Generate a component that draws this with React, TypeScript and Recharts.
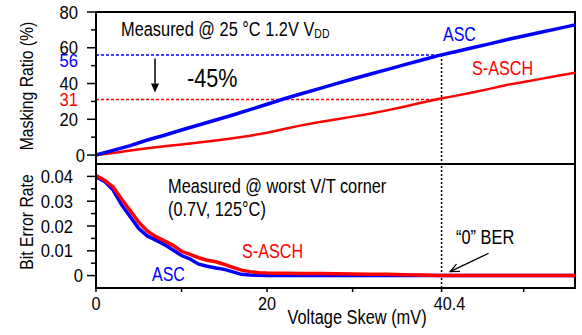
import React from "react";
import {
  LineChart,
  Line,
  XAxis,
  YAxis,
  ReferenceLine,
  ReferenceArea,
} from "recharts";

// masking ratio (%) vs voltage skew (mV), measured @ 25 °C, 1.2 V
const skewMask = [0, 2, 4, 6, 8, 10, 12, 14, 16, 18, 20, 22, 24, 26, 28, 30, 32, 34, 36, 38, 40, 42, 44, 46, 48, 50, 52, 54, 56];
const ascMask = [0, 2.6, 5.3, 8.4, 11.1, 14.0, 16.8, 19.6, 22.4, 25.4, 28.4, 31.5, 34.3, 37.0, 39.8, 42.5, 45.2, 47.8, 50.4, 53.0, 55.6, 57.8, 60.0, 62.2, 64.5, 66.6, 68.7, 70.7, 72.8];
const saschMask = [0, 1.2, 2.6, 3.8, 4.9, 5.9, 7.0, 8.2, 9.4, 10.8, 12.5, 14.6, 16.6, 18.3, 19.9, 21.5, 23.1, 25.0, 27.0, 29.2, 31.3, 33.1, 35.0, 37.0, 39.2, 40.9, 42.6, 44.3, 46.0];

// bit error rate vs voltage skew (mV), worst V/T corner (0.7 V, 125 °C)
const skewBer = [0, 1, 2, 3, 4, 5, 6, 7, 8, 9, 10, 11, 12, 13, 14, 15, 16, 17, 18, 19, 20, 22, 24, 26, 28, 30, 32, 34, 36, 38, 40, 42, 44, 46, 48, 50, 52, 54, 56];
const ascBer = [0.0398, 0.038, 0.0345, 0.0285, 0.0237, 0.019, 0.016, 0.0143, 0.0125, 0.0103, 0.0081, 0.0067, 0.0046, 0.0038, 0.0031, 0.0025, 0.0015, 0.0005, 0.0002, 0.0001, 0, 0, 0, 0, 0, 0, 0, 0, 0, 0, 0, 0, 0, 0, 0, 0, 0, 0, 0];
const saschBer = [0.0404, 0.0385, 0.0357, 0.0308, 0.0262, 0.0215, 0.018, 0.0157, 0.014, 0.0122, 0.0098, 0.0086, 0.0072, 0.0062, 0.0056, 0.0045, 0.0033, 0.0022, 0.0016, 0.0012, 0.001, 0.0009, 0.0008, 0.0008, 0.0007, 0.0006, 0.0005, 0.0005, 0.0003, 0.0002, 0, 0, 0, 0, 0, 0, 0, 0, 0];

const maskTicks = [0, 10, 20, 30, 40, 50, 60, 70, 80];
const berTicks = [0, 0.005, 0.01, 0.015, 0.02, 0.025, 0.03, 0.035, 0.04];
const berMajor = [0, 0.01, 0.02, 0.03, 0.04];
const skewTicks = [0, 10, 20, 30, 40.4, 50];
const skewLabeled = [0, 20, 40.4];

// skew where the two masking ratios are compared
const markSkew = 40.4;
const ascAtMark = 56;
const saschAtMark = 31;

const maskRows = skewMask.map((s, i) => ({ skew: s, asc: ascMask[i], sasch: saschMask[i] }));
const berRows = skewBer.map((s, i) => ({ skew: s, asc: ascBer[i], sasch: saschBer[i] }));

const FONT = "'Liberation Sans', Arial, sans-serif";
const BLUE = "#0000ff";
const RED = "#ff0000";

// condensed sans text (horizontal squeeze around its anchor point)
const Label = ({ x, y, size, color = "#000", anchor = "start", rotate = 0, sx = 0.83, dy, children }: any) => (
  <text
    transform={`translate(${x},${y})${rotate ? ` rotate(${rotate})` : ""} scale(${sx},1)`}
    fontSize={size}
    fontFamily={FONT}
    fill={color}
    textAnchor={anchor}
    dy={dy}
  >
    {children}
  </text>
);

const MaskTick = (props: any) => {
  const { x, y, payload } = props;
  const v = payload.value;
  const major = v % 20 === 0;
  return (
    <g>
      <line x1={x - (major ? 9 : 5)} x2={x} y1={y} y2={y} stroke="#000" strokeWidth={1.5} />
      {major && (
        <Label x={v === 0 ? x - 11 : x - 18} y={y} dy="0.36em" anchor="end" size={18.5} sx={0.9}>
          {v}
        </Label>
      )}
    </g>
  );
};

const BerTick = (props: any) => {
  const { x, y, payload } = props;
  const v = payload.value;
  const major = berMajor.includes(v);
  return (
    <g>
      <line x1={x - (major ? 9 : 5)} x2={x} y1={y} y2={y} stroke="#000" strokeWidth={1.5} />
      {major && (
        <Label x={v === 0 ? x - 13 : x - 23} y={y} dy="0.36em" anchor="end" size={18.5} sx={0.9}>
          {v === 0 ? "0" : v.toFixed(2)}
        </Label>
      )}
    </g>
  );
};

const SkewTick = (props: any) => {
  const { x, y, payload } = props;
  const v = payload.value;
  return (
    <g>
      <line x1={x} x2={x} y1={y} y2={y + 4} stroke="#000" strokeWidth={1.5} />
      {skewLabeled.includes(v) && (
        <Label x={v === markSkew ? x + 8 : x} y={y + 22} anchor="middle" size={18.5} sx={0.88}>
          {v}
        </Label>
      )}
    </g>
  );
};

// arrow drawn along a reference segment, head at the second point
const Arrow = (props: any) => {
  const { x1, y1, x2, y2, open } = props;
  const a = Math.atan2(y2 - y1, x2 - x1);
  const len = 9;
  const half = 4;
  const bx = x2 - len * Math.cos(a);
  const by = y2 - len * Math.sin(a);
  const px = -Math.sin(a) * half;
  const py = Math.cos(a) * half;
  if (open) {
    return (
      <g>
        <line x1={x1} y1={y1} x2={x2} y2={y2} stroke="#000" strokeWidth={1.3} />
        <polyline points={`${bx + px},${by + py} ${x2},${y2} ${bx - px},${by - py}`} fill="none" stroke="#000" strokeWidth={1.3} />
      </g>
    );
  }
  return (
    <g>
      <line x1={x1} y1={y1} x2={bx} y2={by} stroke="#000" strokeWidth={1.5} />
      <polygon points={`${x2},${y2} ${bx + px},${by + py} ${bx - px},${by - py}`} fill="#000" />
    </g>
  );
};

export default function App() {
  return (
    <div style={{ position: "absolute", left: 0, top: 0, width: 582, height: 335, background: "#fff" }}>
      <div style={{ position: "absolute", left: 0, top: 0 }}>
        <LineChart width={582} height={166} data={maskRows} margin={{ top: 12, right: 7, bottom: 2, left: 0 }}>
          <XAxis dataKey="skew" type="number" domain={[0, 56]} hide />
          <YAxis
            type="number"
            domain={[-5, 80]}
            ticks={maskTicks}
            interval={0}
            width={96}
            tickSize={0}
            tickMargin={0}
            tickLine={false}
            axisLine={{ stroke: "#000", strokeWidth: 2 }}
            tick={<MaskTick />}
          />
          <ReferenceArea x1={0} x2={56} y1={-5} y2={80} fill="none" stroke="#000" strokeWidth={2} ifOverflow="visible" />
          <ReferenceLine segment={[{ x: 0, y: ascAtMark }, { x: markSkew, y: ascAtMark }]} stroke={BLUE} strokeWidth={1.5} strokeDasharray="3 2" />
          <ReferenceLine segment={[{ x: 0, y: saschAtMark }, { x: markSkew, y: saschAtMark }]} stroke={RED} strokeWidth={1.5} strokeDasharray="3 2" />
          <ReferenceLine segment={[{ x: markSkew, y: ascAtMark }, { x: markSkew, y: -5 }]} stroke="#000" strokeWidth={1.5} strokeDasharray="2 2" />
          <ReferenceLine segment={[{ x: 6.9, y: 54 }, { x: 6.9, y: 35 }]} shape={(p: any) => <Arrow {...p} />} />
          <Line dataKey="sasch" type="linear" stroke={RED} strokeWidth={2.5} dot={false} isAnimationActive={false} />
          <Line dataKey="asc" type="linear" stroke={BLUE} strokeWidth={3.5} dot={false} isAnimationActive={false} />
        </LineChart>
      </div>
      <div style={{ position: "absolute", left: 0, top: 164 }}>
        <LineChart width={582} height={171} data={berRows} margin={{ top: 0, right: 7, bottom: 0, left: 0 }}>
          <XAxis
            dataKey="skew"
            type="number"
            domain={[0, 56]}
            ticks={skewTicks}
            interval={0}
            height={47}
            tickSize={0}
            tickMargin={0}
            tickLine={false}
            axisLine={{ stroke: "#000", strokeWidth: 2 }}
            tick={<SkewTick />}
          />
          <YAxis
            type="number"
            domain={[-0.005, 0.045]}
            ticks={berTicks}
            interval={0}
            width={96}
            tickSize={0}
            tickMargin={0}
            tickLine={false}
            axisLine={{ stroke: "#000", strokeWidth: 2 }}
            tick={<BerTick />}
          />
          <ReferenceArea x1={0} x2={56} y1={-0.005} y2={0.045} fill="none" stroke="#000" strokeWidth={2} ifOverflow="visible" />
          <ReferenceLine x={markSkew} stroke="#000" strokeWidth={1.5} strokeDasharray="2 2" />
          <ReferenceLine segment={[{ x: 45.9, y: 0.009 }, { x: 41.4, y: 0.0016 }]} shape={(p: any) => <Arrow {...p} open />} />
          <Line dataKey="asc" type="linear" stroke={BLUE} strokeWidth={3.5} dot={false} isAnimationActive={false} />
          <Line dataKey="sasch" type="linear" stroke={RED} strokeWidth={3.5} dot={false} isAnimationActive={false} />
        </LineChart>
      </div>
      <svg width={582} height={335} style={{ position: "absolute", left: 0, top: 0, pointerEvents: "none" }}>
        <Label x={33} y={86} rotate={-90} anchor="middle" size={19}>Masking Ratio (%)</Label>
        <Label x={33} y={222} rotate={-90} anchor="middle" size={19}>Bit Error Rate</Label>
        <Label x={357} y={324} anchor="middle" size={19.5} sx={0.84}>Voltage Skew (mV)</Label>

        <Label x={121} y={36} size={19.5} sx={0.84}>
          Measured @ 25 °C 1.2V V<tspan fontSize={12.5} dy={2}>DD</tspan>
        </Label>
        <Label x={187} y={87} size={26}>-45%</Label>
        <Label x={78} y={66.5} anchor="end" size={18.5} sx={0.9} color={BLUE}>{ascAtMark}</Label>
        <Label x={78} y={106} anchor="end" size={18.5} sx={0.9} color={RED}>{saschAtMark}</Label>
        <Label x={443} y={41} size={20} sx={0.8} color={BLUE}>ASC</Label>
        <Label x={472} y={75} size={19.5} color={RED}>S-ASCH</Label>

        <Label x={168} y={193} size={19.5} sx={0.84}>Measured @ worst V/T corner</Label>
        <Label x={168} y={216} size={19.5} sx={0.84}>(0.7V, 125°C)</Label>
        <Label x={242} y={258} size={19.5} color={RED}>S-ASCH</Label>
        <Label x={152} y={281} size={20} sx={0.8} color={BLUE}>ASC</Label>
        <Label x={456} y={244} size={19.5} sx={0.84}>“0” BER</Label>
      </svg>
    </div>
  );
}
